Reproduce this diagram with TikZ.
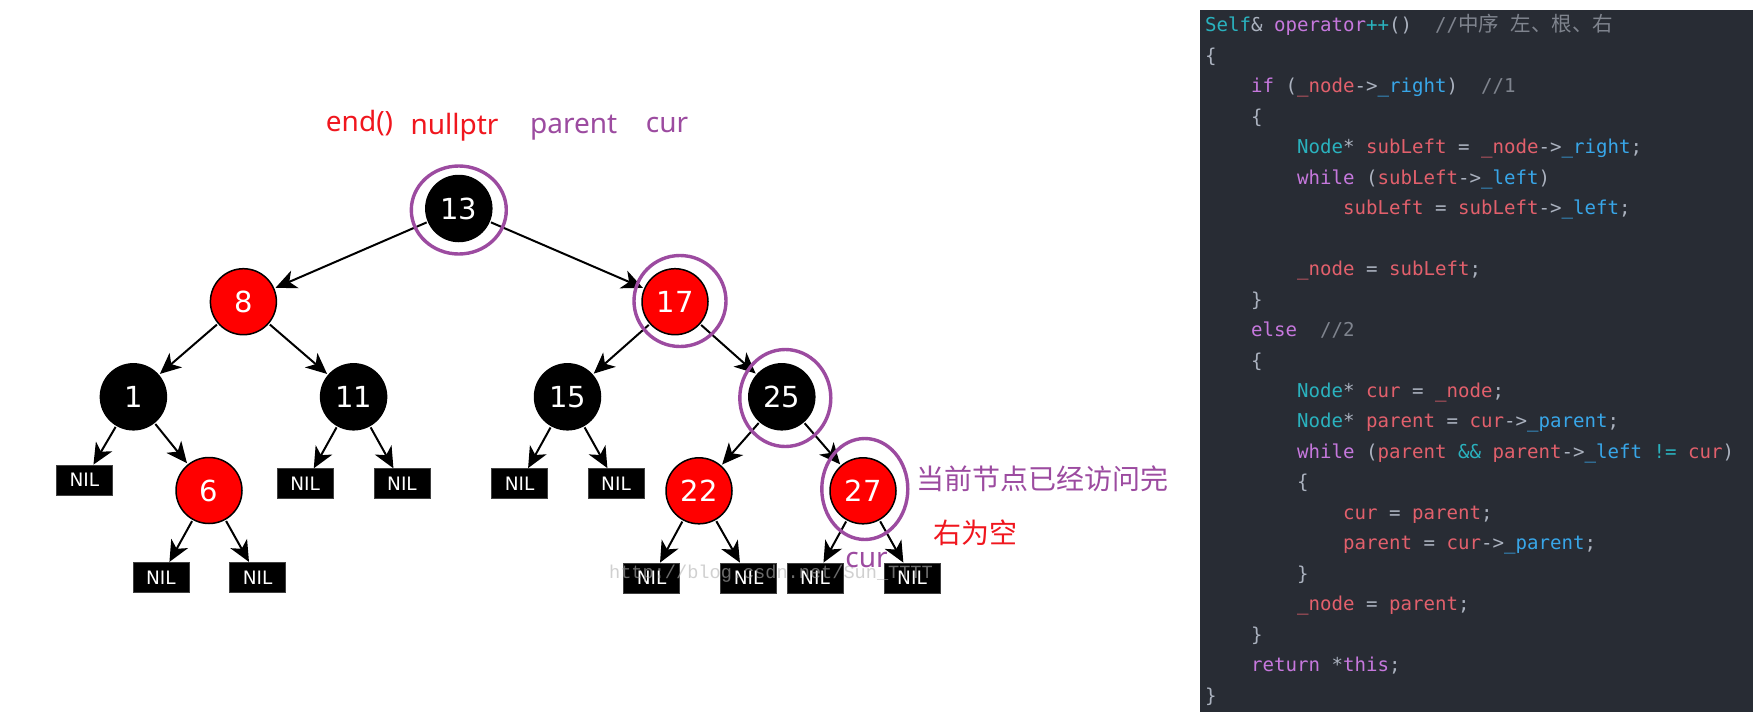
\documentclass[tikz,border=0pt]{standalone}
\usepackage{fontspec}
\setmainfont{Noto Sans}
\newfontfamily\treefont{DejaVu Sans}
\newfontfamily\codefont{DejaVu Sans Mono}
\newfontfamily\cjkfont{Noto Sans CJK SC}
\newfontfamily\markfont{Liberation Mono}
\usepackage{xcolor}
\usepackage{tikz}
\usetikzlibrary{arrows.meta, positioning}
\definecolor{nodered}{RGB}{255, 0, 0}
\definecolor{ringpurple}{RGB}{156, 75, 160}
\definecolor{notered}{RGB}{240, 22, 30}
\definecolor{codebg}{RGB}{40, 44, 52}
\definecolor{codetext}{RGB}{171, 178, 191}
\definecolor{codecyan}{RGB}{42, 178, 190}
\definecolor{codepurple}{RGB}{198, 120, 221}
\definecolor{codered}{RGB}{226, 96, 108}
\definecolor{codeblue}{RGB}{56, 166, 232}
\definecolor{codegray}{RGB}{127, 132, 142}
\newcommand{\cKw}[1]{\textcolor{codepurple}{#1}}
\newcommand{\cTy}[1]{\textcolor{codecyan}{#1}}
\newcommand{\cId}[1]{\textcolor{codered}{#1}}
\newcommand{\cMem}[1]{\textcolor{codeblue}{#1}}
\newcommand{\cCmt}[1]{\textcolor{codegray}{#1}}
\newcommand{\cjkc}[1]{{\cjkfont\fontsize{20.5}{20.5}\selectfont #1}}
\tikzset{
  treenode/.style={
    circle, draw=black, line width=1.5pt, minimum size=66pt,
    inner sep=0pt, outer sep=2pt, text=white,
    font=\treefont\fontsize{29}{29}\selectfont
  },
  rednode/.style={treenode, fill=nodered},
  blacknode/.style={treenode, fill=black},
  nilbox/.style={
    rectangle, draw=black!75, fill=black, line width=0.8pt,
    minimum width=56pt, minimum height=30pt, inner sep=0pt, text=white,
    font=\treefont\fontsize{18.5}{18.5}\selectfont
  },
  treeline/.style={draw=black, line width=2pt, -{Stealth[length=21pt, width=19pt, inset=6pt]}},
  ringline/.style={draw=ringpurple, line width=3.4pt},
  redlabel/.style={text=notered, inner sep=0pt, font=\fontsize{28}{28}\selectfont},
  purplelabel/.style={text=ringpurple, inner sep=0pt, font=\fontsize{28}{28}\selectfont},
  codeline/.style={
    anchor=base west, inner sep=0pt, text=codetext,
    font=\codefont\fontsize{19.1}{19.1}\selectfont
  },
  watermark/.style={text=black!30, opacity=0.6, inner sep=0pt, font=\markfont\fontsize{18.6}{18.6}\selectfont}
}

\begin{document}
\begin{tikzpicture}[x=1pt, y=-1pt]
  \useasboundingbox (0,0) rectangle (1753,715);
  \fill[white] (0,0) rectangle (1753,715);

  % Code panel
  \fill[codebg] (1200,10) rectangle (1753,711.7);

  % Tree: inner nodes
  \node[blacknode] (n13) at (458.8,208.5) {13};
  \node[rednode] (n8) at (243.4,301.7) {8};
  \node[rednode] (n17) at (675,301.7) {17};
  \node[blacknode] (n1) at (133.4,396.8) {1};
  \node[blacknode] (n11) at (353.6,396.8) {11};
  \node[blacknode] (n15) at (567.5,396.8) {15};
  \node[blacknode] (n25) at (781.8,396.8) {25};
  \node[rednode] (n6) at (209,490.5) {6};
  \node[rednode] (n22) at (699,490.8) {22};
  \node[rednode] (n27) at (863,490.8) {27};

  % Tree: leaves
  \node[nilbox] (nil1) at (84.4,480) {NIL};
  \node[nilbox] (nil6a) at (160.9,577.3) {NIL};
  \node[nilbox] (nil6b) at (257.6,577.3) {NIL};
  \node[nilbox] (nil11a) at (305.2,483.7) {NIL};
  \node[nilbox] (nil11b) at (402,483.7) {NIL};
  \node[nilbox] (nil15a) at (519.6,483.5) {NIL};
  \node[nilbox] (nil15b) at (616,483.5) {NIL};
  \node[nilbox] (nil22a) at (651.7,578) {NIL};
  \node[nilbox] (nil22b) at (748.7,578) {NIL};
  \node[nilbox] (nil27a) at (815,578) {NIL};
  \node[nilbox] (nil27b) at (912,578) {NIL};

  % Edges
  \foreach \from/\to in {n13/n8, n13/n17, n8/n1, n8/n11, n17/n15, n17/n25,
      n1/nil1, n1/n6, n6/nil6a, n6/nil6b, n11/nil11a, n11/nil11b,
      n15/nil15a, n15/nil15b, n25/n22, n25/n27,
      n22/nil22a, n22/nil22b, n27/nil27a, n27/nil27b}
    \draw[treeline] (\from) -- (\to);

  % Rings round the visited nodes
  \draw[ringline] (458.8,210) ellipse [x radius=47.5, y radius=44];
  \draw[ringline] (680,301) ellipse [x radius=46, y radius=45.5];
  \draw[ringline] (785.3,398) ellipse [x radius=45.5, y radius=48.5];
  \draw[ringline] (864.8,489) ellipse [x radius=43, y radius=50.5];

  % Watermark
  \node[watermark] (mark) at (771,574) {http://blog.csdn.net/Sun\_TTTT};

  % Notes
  \node[redlabel, anchor=base] (lblend) at (359.5,131) {end()};
  \node[redlabel, anchor=base] (lblnull) at (454.5,134) {nullptr};
  \node[purplelabel, anchor=base] (lblparent) at (573.7,133) {parent};
  \node[purplelabel, anchor=base] (lblcur) at (667,132) {cur};
  \node[purplelabel, anchor=west, font=\cjkfont\fontsize{28}{28}\selectfont] (lbldone) at (916,478.3) {当前节点已经访问完};
  \node[redlabel, anchor=west, font=\cjkfont\fontsize{28}{28}\selectfont] (lblempty) at (933,532.5) {右为空};
  \node[purplelabel, anchor=base] (lblcurlow) at (866.5,567) {cur};

  % Code lines
  \node[codeline] (code1) at (1205,31.7) {\cTy{Self}\&~\cKw{operator}\cTy{++}()~~\cCmt{//\cjkc{中序}~\cjkc{左、根、右}}};
  \node[codeline] (code2) at (1205,62.2) {\{};
  \node[codeline] (code3) at (1251,92.7) {\cKw{if}~(\cId{\_node}->\cMem{\_right})~~\cCmt{//1}};
  \node[codeline] (code4) at (1251,123.1) {\{};
  \node[codeline] (code5) at (1297,153.6) {\cTy{Node}*~\cId{subLeft}~=~\cId{\_node}->\cMem{\_right};};
  \node[codeline] (code6) at (1297,184.1) {\cKw{while}~(\cId{subLeft}->\cMem{\_left})};
  \node[codeline] (code7) at (1343,214.6) {\cId{subLeft}~=~\cId{subLeft}->\cMem{\_left};};
  \node[codeline] (code9) at (1297,275.5) {\cId{\_node}~=~\cId{subLeft};};
  \node[codeline] (code10) at (1251,306.0) {\}};
  \node[codeline] (code11) at (1251,336.5) {\cKw{else}~~\cCmt{//2}};
  \node[codeline] (code12) at (1251,367.0) {\{};
  \node[codeline] (code13) at (1297,397.5) {\cTy{Node}*~\cId{cur}~=~\cId{\_node};};
  \node[codeline] (code14) at (1297,427.9) {\cTy{Node}*~\cId{parent}~=~\cId{cur}->\cMem{\_parent};};
  \node[codeline] (code15) at (1297,458.4) {\cKw{while}~(\cId{parent}~\cTy{\&\&}~\cId{parent}->\cMem{\_left}~\cTy{!=}~\cId{cur})};
  \node[codeline] (code16) at (1297,488.9) {\{};
  \node[codeline] (code17) at (1343,519.4) {\cId{cur}~=~\cId{parent};};
  \node[codeline] (code18) at (1343,549.9) {\cId{parent}~=~\cId{cur}->\cMem{\_parent};};
  \node[codeline] (code19) at (1297,580.3) {\}};
  \node[codeline] (code20) at (1297,610.8) {\cId{\_node}~=~\cId{parent};};
  \node[codeline] (code21) at (1251,641.3) {\}};
  \node[codeline] (code22) at (1251,671.8) {\cKw{return}~*\cKw{this};};
  \node[codeline] (code23) at (1205,702.3) {\}};

\end{tikzpicture}
\end{document}
